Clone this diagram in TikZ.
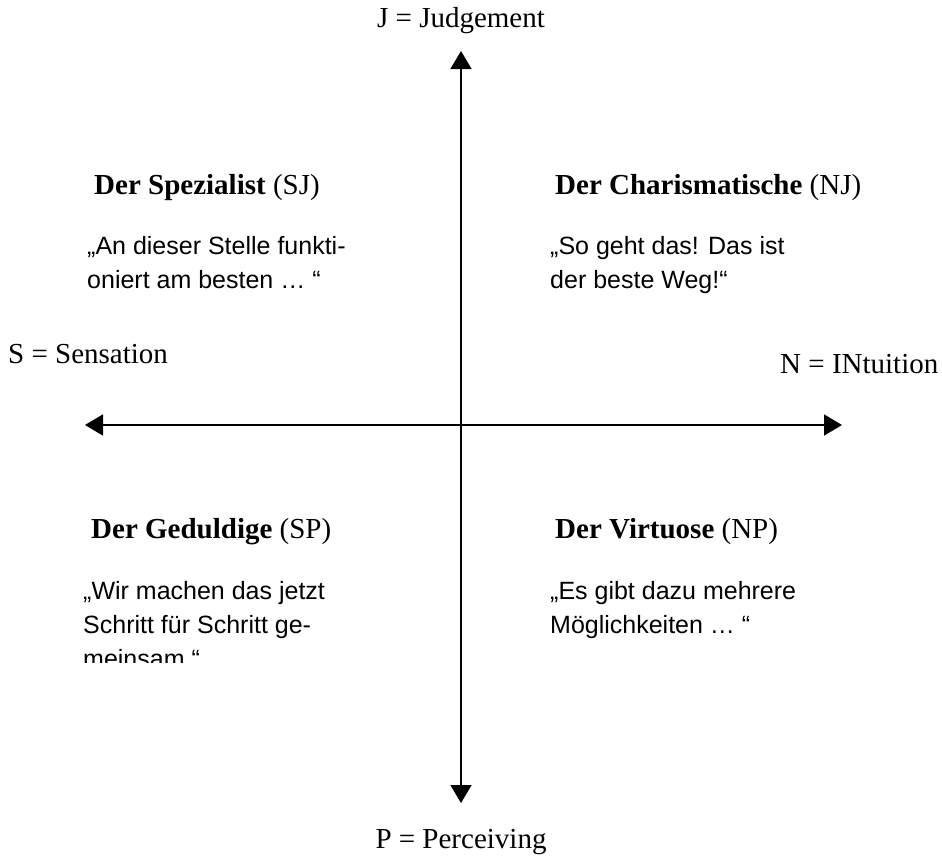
\documentclass[tikz,border=0pt]{standalone}
\usepackage{fontspec}
\setmainfont{Liberation Serif}
\setsansfont{Liberation Sans}
\usetikzlibrary{arrows.meta}
\begin{document}
\begin{tikzpicture}[x=1pt,y=-1pt,
  axis/.style={line width=1.6pt,{Triangle[width=21pt,length=18pt]}-{Triangle[width=21pt,length=18pt]}},
  axlabel/.style={font=\fontsize{29}{32}\selectfont,inner sep=0pt},
  head/.style={font=\fontsize{29}{32}\selectfont,inner sep=0pt,anchor=base west},
  quote/.style={font=\sffamily\fontsize{25}{34}\selectfont,inner sep=0pt,anchor=base west,align=left}]
\useasboundingbox (0,0) rectangle (942,857);
\node[axlabel,anchor=base] (J) at (461,27) {J = Judgement};
\node[axlabel,anchor=base] (P) at (461,848) {P = Perceiving};
\node[axlabel,anchor=base west] (S) at (8,363) {S = Sensation};
\node[axlabel,anchor=base west] (N) at (780,373) {N = INtuition};
\coordinate (top) at (461,51);
\coordinate (bot) at (461,803);
\coordinate (lft) at (85,425);
\coordinate (rgt) at (842,425);
\draw[axis] (bot) -- (top);
\draw[axis] (lft) -- (rgt);
\node[head] (sj) at (94,194) {\textbf{Der Spezialist} (SJ)};
\node[head] (nj) at (555,194) {\textbf{Der Charismatische} (NJ)};
\node[head] (sp) at (91,538) {\textbf{Der Geduldige} (SP)};
\node[head] (np) at (555,538) {\textbf{Der Virtuose} (NP)};
\node[quote] (q1) at (87,288) {„An dieser Stelle funkti-\\oniert am besten … “};
\node[quote] (q2) at (550,288) {„So geht das! Das ist\\der beste Weg!“};
\begin{scope}
\clip (0,0) rectangle (942,662);
\node[quote] (q3) at (83,667) {„Wir machen das jetzt\\Schritt für Schritt ge-\\meinsam.“};
\end{scope}
\node[quote] (q4) at (550,633) {„Es gibt dazu mehrere\\Möglichkeiten … “};
\end{tikzpicture}
\end{document}
